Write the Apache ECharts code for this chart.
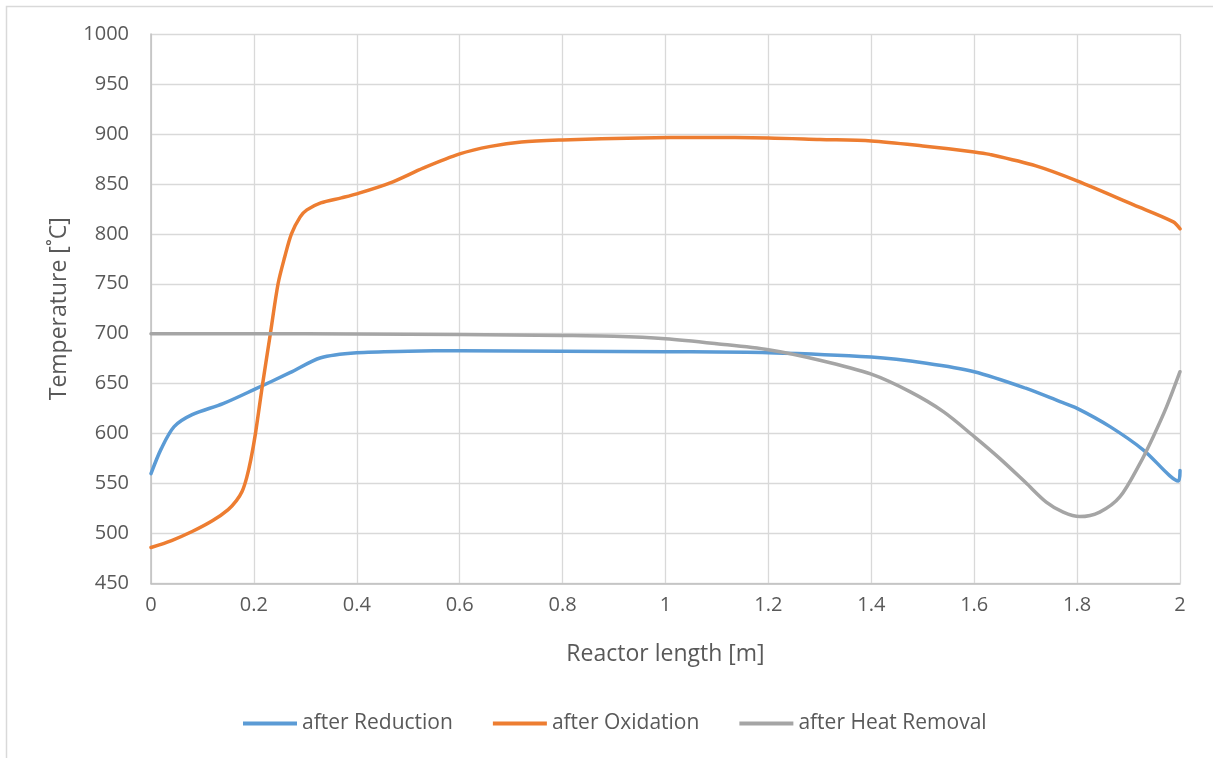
<!DOCTYPE html>
<html>
<head>
<meta charset="utf-8">
<script src="https://cdn.jsdelivr.net/npm/echarts@6/dist/echarts.min.js"></script>
<style>
  html, body { margin: 0; padding: 0; background: #ffffff; }
  #chart { width: 1213px; height: 758px; }
</style>
</head>
<body>
<div id="chart"></div>
<script>
// Axis ranges and tick steps
const xMin = 0, xMax = 2, xStep = 0.2;
const yMin = 450, yMax = 1000, yStep = 50;

// Temperature profile along the reactor after the reduction step
const xReduction = [0, 0.02, 0.045, 0.08, 0.14, 0.2, 0.27, 0.33, 0.4, 0.5, 0.6, 0.8, 1.0, 1.2, 1.4, 1.507, 1.6, 1.7, 1.767, 1.8, 1.864, 1.929, 1.997, 2.0];
const yReduction = [560, 585, 607, 619, 630, 644, 661, 676, 681, 682.5, 683, 682.5, 682, 681, 676.6, 670.5, 662, 645.5, 632, 625.3, 607, 583.6, 552.6, 563];

// Temperature profile after the oxidation step
const xOxidation = [0, 0.04, 0.08, 0.12, 0.15, 0.166, 0.177, 0.186, 0.194, 0.203, 0.217, 0.232, 0.247, 0.26, 0.273, 0.29, 0.303, 0.33, 0.37, 0.4, 0.465, 0.53, 0.6, 0.66, 0.72, 0.8, 0.95, 1.07, 1.2, 1.3, 1.4, 1.5, 1.6, 1.63, 1.72, 1.8, 1.91, 1.987, 2.0];
const yOxidation = [486, 493, 502, 513, 524, 533, 542, 556, 574, 600, 650, 700, 750, 777, 800, 817, 824, 831, 836, 840, 851, 866, 880, 887.5, 892, 894, 896, 896.5, 896, 894.5, 893, 888, 882, 879.5, 868, 853, 829, 812, 805];

// Temperature profile after heat removal
const xHeatRemoval = [0, 0.2, 0.4, 0.6, 0.8, 0.9, 1.0, 1.1, 1.2, 1.3, 1.4, 1.475, 1.54, 1.6, 1.65, 1.7, 1.74, 1.773, 1.805, 1.844, 1.883, 1.922, 1.948, 1.974, 2.0];
const yHeatRemoval = [700, 700, 699.8, 699.3, 698.3, 697.5, 695, 690, 684, 673.5, 659.5, 642, 622, 597, 575, 551, 531.5, 521.5, 517, 521.5, 536.6, 570, 597, 627, 662];

const seriesNames = ['after Reduction', 'after Oxidation', 'after Heat Removal'];
const seriesColors = ['#5b9bd5', '#ed7d31', '#a5a5a5'];

const pairs = (xs, ys) => xs.map((x, i) => [x, ys[i]]);
const seriesData = [
  pairs(xReduction, yReduction),
  pairs(xOxidation, yOxidation),
  pairs(xHeatRemoval, yHeatRemoval)
];

const FONT = '"Open Sans", "Noto Sans", sans-serif';
const TEXT = '#595959';

const chart = echarts.init(document.getElementById('chart'), null, { renderer: 'canvas' });

chart.setOption({
  animation: false,
  backgroundColor: '#ffffff',
  textStyle: { fontFamily: FONT },
  graphic: [{
    type: 'rect',
    silent: true,
    shape: { x: 6.5, y: 6.5, width: 1300, height: 800 },
    style: { fill: 'none', stroke: '#d9d9d9', lineWidth: 1.5 }
  }],
  grid: { left: 151, right: 33, top: 34, bottom: 174.5, containLabel: false },
  legend: {
    top: 708,
    left: 238,
    icon: 'rect',
    itemWidth: 54,
    itemHeight: 4,
    itemGap: 40,
    textStyle: { fontFamily: FONT, fontSize: 21, color: TEXT },
    data: seriesNames
  },
  xAxis: {
    type: 'value',
    min: xMin, max: xMax, interval: xStep,
    name: 'Reactor length [m]',
    nameLocation: 'middle',
    nameGap: 59,
    nameTextStyle: { fontFamily: FONT, fontSize: 23, color: TEXT },
    axisLine: { show: true, lineStyle: { color: '#bfbfbf', width: 1.5 } },
    axisTick: { show: false },
    axisLabel: {
      margin: 12,
      fontFamily: FONT, fontSize: 20, color: TEXT,
      formatter: v => String(parseFloat(v.toFixed(1)))
    },
    splitLine: { show: true, lineStyle: { color: '#d9d9d9', width: 1.3 } }
  },
  yAxis: {
    type: 'value',
    min: yMin, max: yMax, interval: yStep,
    name: 'Temperature [˚C]',
    nameLocation: 'middle',
    nameGap: 80,
    nameTextStyle: { fontFamily: FONT, fontSize: 23, color: TEXT },
    axisLine: { show: true, lineStyle: { color: '#bfbfbf', width: 1.5 } },
    axisTick: { show: false },
    axisLabel: {
      margin: 22, fontFamily: FONT, fontSize: 20, color: TEXT,
      formatter: v => String(v)
    },
    splitLine: { show: true, lineStyle: { color: '#d9d9d9', width: 1.3 } }
  },
  series: seriesNames.map((name, i) => ({
    name,
    type: 'line',
    data: seriesData[i],
    smooth: 0.3,
    showSymbol: false,
    symbol: 'none',
    color: seriesColors[i],
    lineStyle: { color: seriesColors[i], width: 3.5, cap: 'round', join: 'round' },
    z: 2 + i
  }))
});
</script>
</body>
</html>
